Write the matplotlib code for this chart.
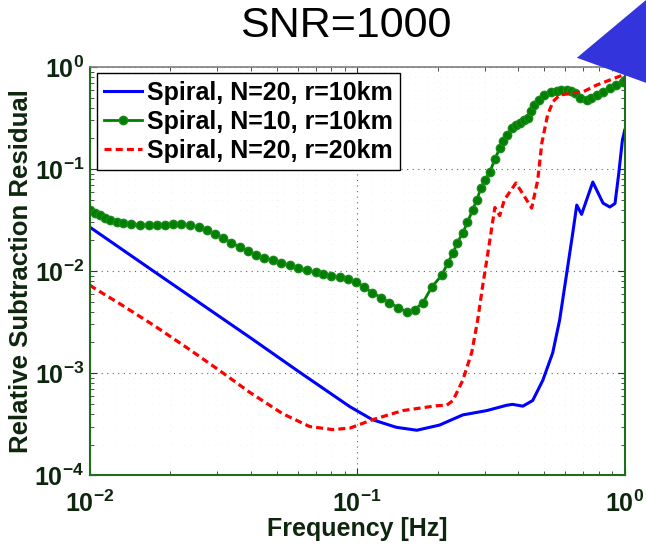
import numpy as np
import matplotlib
matplotlib.use("Agg")
import matplotlib.pyplot as plt
from matplotlib.patches import Polygon

# ---- data ----
title = "SNR=1000"
xlabel = "Frequency [Hz]"
ylabel = "Relative Subtraction Residual"
labels = ["Spiral, N=20, r=10km", "Spiral, N=10, r=10km", "Spiral, N=20, r=20km"]

xticks = [0.01, 0.1, 1]
xticklabels = [r"$\mathbf{10^{-2}}$", r"$\mathbf{10^{-1}}$", r"$\mathbf{10^{0}}$"]
yticks = [1e-4, 1e-3, 1e-2, 1e-1, 1]
yticklabels = [r"$\mathbf{10^{-4}}$", r"$\mathbf{10^{-3}}$", r"$\mathbf{10^{-2}}$",
               r"$\mathbf{10^{-1}}$", r"$\mathbf{10^{0}}$"]

# N=20, r=10km (blue)
f_n20_r10 = [0.01, 0.0175, 0.0396, 0.06, 0.0938, 0.114, 0.14, 0.167, 0.203, 0.248,
             0.305, 0.362, 0.381, 0.416, 0.453, 0.494, 0.538, 0.571, 0.607, 0.64,
             0.662, 0.69, 0.76, 0.83, 0.88, 0.92, 0.95, 0.98, 1.0]
r_n20_r10 = [0.027, 0.0098, 2.25e-3, 1.05e-3, 4.7e-4, 3.5e-4, 2.95e-4, 2.76e-4, 3.1e-4, 3.9e-4,
             4.3e-4, 4.85e-4, 4.95e-4, 4.75e-4, 5.4e-4, 8.5e-4, 1.58e-3, 3.3e-3, 9.5e-3, 0.024,
             0.0444, 0.036, 0.0746, 0.0464, 0.0425, 0.046, 0.09, 0.19, 0.24]

# N=10, r=10km (green, markers)
f_n10_r10 = [0.0100, 0.0105, 0.0109, 0.0114, 0.0119, 0.0126, 0.0133, 0.0143, 0.0154, 0.0166,
             0.0178, 0.0191, 0.0204, 0.0220, 0.0236, 0.0255, 0.0274, 0.0294, 0.0314, 0.0338,
             0.0363, 0.0391, 0.042, 0.045, 0.0484, 0.052, 0.056, 0.060, 0.065, 0.070,
             0.0745, 0.080, 0.086, 0.092, 0.099, 0.106, 0.114, 0.123, 0.132, 0.142,
             0.153, 0.164, 0.176, 0.19, 0.207, 0.218, 0.228, 0.236, 0.248, 0.258,
             0.27, 0.28, 0.29, 0.30, 0.313, 0.327, 0.341, 0.352, 0.362, 0.378,
             0.392, 0.405, 0.42, 0.434, 0.447, 0.46, 0.48, 0.50, 0.53, 0.557,
             0.58, 0.607, 0.63, 0.65, 0.68, 0.72, 0.75, 0.787, 0.83, 0.879,
             0.93, 0.984, 1.0]
r_n10_r10 = [0.040, 0.037, 0.0354, 0.033, 0.0316, 0.0305, 0.0296, 0.029, 0.0282, 0.0282,
             0.0282, 0.0286, 0.029, 0.0287, 0.0282, 0.027, 0.0253, 0.0232, 0.0211, 0.019,
             0.0172, 0.0157, 0.0144, 0.0135, 0.0128, 0.0121, 0.0114, 0.0108, 0.0102, 0.0097,
             0.0093, 0.0090, 0.0087, 0.0083, 0.0078, 0.0070, 0.0061, 0.0055, 0.0049, 0.0044,
             0.0040, 0.0042, 0.0049, 0.0070, 0.0091, 0.012, 0.015, 0.0188, 0.0236, 0.030,
             0.0396, 0.050, 0.065, 0.078, 0.093, 0.125, 0.16, 0.19, 0.215, 0.25,
             0.27, 0.28, 0.30, 0.32, 0.37, 0.42, 0.48, 0.53, 0.57, 0.58,
             0.60, 0.595, 0.58, 0.556, 0.50, 0.475, 0.50, 0.53, 0.57, 0.62,
             0.66, 0.71, 0.74]

# N=20, r=20km (red, dashed)
f_n20_r20 = [0.01, 0.0104, 0.0131, 0.0175, 0.0232, 0.0309, 0.0396, 0.0527, 0.0664, 0.081,
             0.094, 0.114, 0.148, 0.198, 0.216, 0.228, 0.248, 0.268, 0.282, 0.294,
             0.305, 0.327, 0.341, 0.355, 0.392, 0.42, 0.449, 0.473, 0.49, 0.515,
             0.54, 0.571, 0.634, 0.697, 0.787, 0.879, 0.984, 1.0]
r_n20_r20 = [0.0073, 0.0068, 0.0047, 0.0029, 0.00176, 0.00104, 6.5e-4, 4.0e-4, 3.0e-4, 2.8e-4,
             2.9e-4, 3.5e-4, 4.3e-4, 4.8e-4, 4.85e-4, 5.4e-4, 8.5e-4, 1.6e-3, 3.3e-3, 7e-3,
             0.0128, 0.042, 0.035, 0.05, 0.073, 0.055, 0.0415, 0.078, 0.18, 0.34,
             0.46, 0.53, 0.556, 0.57, 0.667, 0.745, 0.835, 0.85]

plt.rcParams['font.family'] = ['Liberation Sans', 'DejaVu Sans']
plt.rcParams['mathtext.fontset'] = 'custom'
plt.rcParams['mathtext.rm'] = 'Liberation Sans'
plt.rcParams['mathtext.bf'] = 'Liberation Sans:bold'

text_col = '#0d260d'
spine_col = '#1e6e1e'

fig = plt.figure(figsize=(6.46, 5.45), dpi=100)
ax = fig.add_axes([0.139, 0.128, 0.828, 0.749])

ax.plot(f_n20_r10, r_n20_r10, color='#0000ff', lw=2.2, label=labels[0])
ax.plot(f_n10_r10, r_n10_r10, color='#008000', lw=2.0, marker='o', ms=6,
        markeredgecolor='#1a8a1a', markerfacecolor='#008000', label=labels[1])
ax.plot(f_n20_r20, r_n20_r20, color='#ff0000', lw=2.3, ls=(0, (2.2, 1.3)), label=labels[2])

ax.set_xscale('log')
ax.set_yscale('log')
ax.set_xlim(0.01, 1)
ax.set_ylim(1e-4, 1)

ax.set_xticks(xticks)
ax.set_xticklabels(xticklabels)
ax.set_yticks(yticks)
ax.set_yticklabels(yticklabels)
ax.tick_params(which='both', direction='in', top=True, right=True, colors='#333333',
               labelcolor=text_col, labelsize=18)
ax.tick_params(which='major', length=5, width=0.8)
ax.tick_params(which='minor', length=3, width=0.6)
ax.tick_params(axis='x', pad=11)
ax.tick_params(axis='y', pad=4)

ax.grid(True, which='major', color='#2e8b2e', ls=(0, (1, 4)), lw=0.8)
ax.grid(True, which='minor', color='#b5dcb5', ls=(0, (1, 8)), lw=0.5, alpha=0.5)

for side in ['left', 'bottom', 'right']:
    ax.spines[side].set_color(spine_col)
    ax.spines[side].set_linewidth(1.5)
ax.spines['top'].set_color('#808080')
ax.spines['top'].set_linewidth(1.2)

ax.set_xlabel(xlabel, fontsize=18, fontweight='bold', color=text_col, labelpad=0)
ax.set_ylabel(ylabel, fontsize=18.5, fontweight='bold', color=text_col, labelpad=1)
fig.text(0.535, 0.953, title, fontsize=31, ha='center', va='center', color='black')

leg = ax.legend(loc='upper left', bbox_to_anchor=(0.013, 0.985), borderaxespad=0,
                prop={'weight': 'bold', 'size': 18}, handlelength=1.5, handletextpad=0.2,
                labelspacing=0.2, borderpad=0.3, fancybox=False, framealpha=1)
leg.get_frame().set_edgecolor('black')
leg.get_frame().set_linewidth(1.0)

# blue decoration in the top right corner
tri = Polygon([[0.893, 0.894], [1.0, 1.0], [1.0, 0.848]], closed=True,
              transform=fig.transFigure, facecolor='#3434dc', edgecolor='none', zorder=10)
fig.patches.append(tri)

fig.savefig('out.png', dpi=100)
